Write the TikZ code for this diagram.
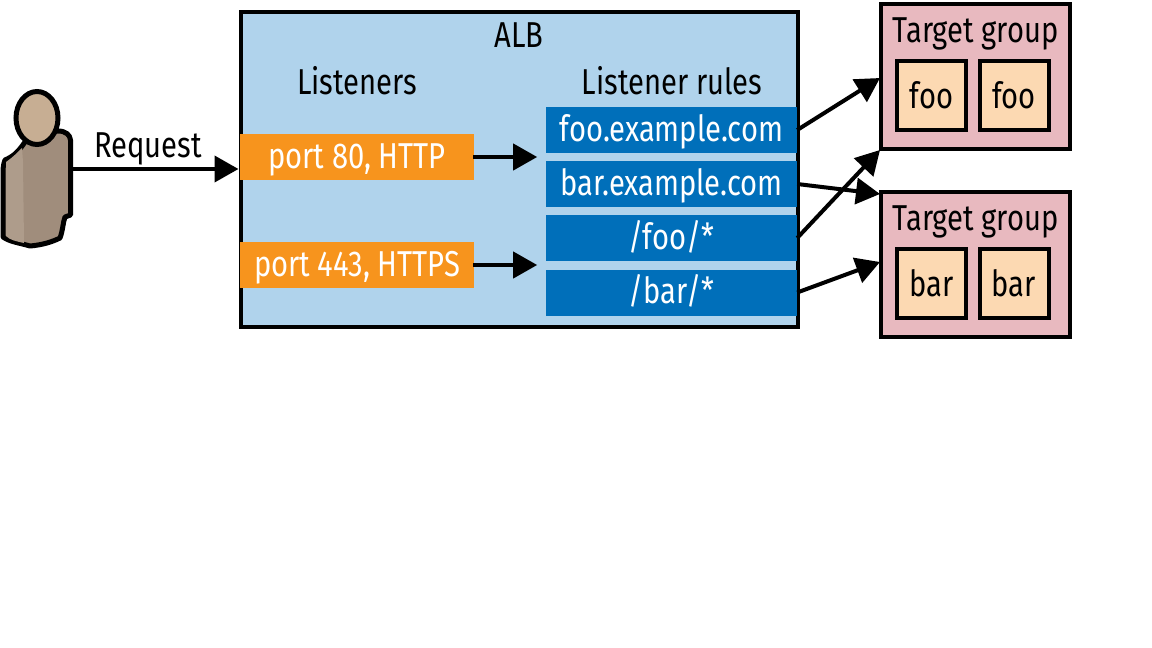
\documentclass[tikz,border=0pt]{standalone}
\usepackage{fontspec}
\setmainfont[FakeStretch=0.81]{Fira Sans}
\usetikzlibrary{arrows.meta,positioning,shapes.geometric}
\definecolor{albblue}{HTML}{B0D3EC}
\definecolor{lsorange}{HTML}{F7941D}
\definecolor{ruleblue}{HTML}{006FBA}
\definecolor{tgpink}{HTML}{E8B9BF}
\definecolor{peach}{HTML}{FCD9B2}
\definecolor{skin}{HTML}{C7AE93}
\definecolor{bodyA}{HTML}{A08D7C}
\definecolor{bodyB}{HTML}{AE9C8B}
\tikzset{
  x=1pt,y=-1pt,
  lbl/.style={inner sep=0,outer sep=0,font=\fontsize{36}{36}\selectfont,text=black},
  panel/.style={draw=black,line width=4pt,rectangle},
  lsbox/.style={fill=lsorange,text=white,inner sep=0,font=\fontsize{36}{36}\selectfont,minimum height=46pt,minimum width=234pt,text height=25pt,text depth=3pt},
  rulebox/.style={fill=ruleblue,text=white,inner sep=0,font=\fontsize{36}{36}\selectfont,minimum height=46pt,minimum width=251pt,text height=25pt,text depth=3pt},
  tgbox/.style={draw=black,line width=4pt,fill=tgpink,minimum width=189pt,minimum height=145pt,inner sep=0},
  inst/.style={draw=black,line width=4pt,fill=peach,minimum width=69pt,minimum height=69pt,inner sep=0,font=\fontsize{36}{36}\selectfont},
  conn/.style={line width=4pt,-{Triangle[length=24pt,width=26pt]},shorten >=0pt},
}
\begin{document}
\begin{tikzpicture}
\useasboundingbox (0,0) rectangle (1152,648);
% ALB
\node[panel,fill=albblue,minimum width=557pt,minimum height=315pt,inner sep=0] (alb) at (519,169.5) {};
\node[lbl] (albt) at (519,35) {ALB};
\node[lbl] (lst) at (357,81) {Listeners};
\node[lbl] (lrt) at (672,81) {Listener rules};
\node[lsbox] (p80) at (357,157) {port 80, HTTP};
\node[lsbox] (p443) at (357,265) {port 443, HTTPS};
\node[rulebox] (r1) at (671.5,130) {foo.example.com};
\node[rulebox] (r2) at (671.5,184) {bar.example.com};
\node[rulebox] (r3) at (671.5,238) {/foo/*};
\node[rulebox] (r4) at (671.5,292.5) {/bar/*};
% Target groups
\node[tgbox] (tg1) at (975.5,76) {};
\node[tgbox] (tg2) at (975.5,264) {};
\node[lbl] (tg1t) at (975.5,34) {Target group};
\node[lbl] (tg2t) at (975.5,222) {Target group};
\node[inst] (f1) at (931.5,95.5) {foo};
\node[inst] (f2) at (1014,95.5) {foo};
\node[inst] (b1) at (931.5,283.5) {bar};
\node[inst] (b2) at (1014,283.5) {bar};
% Person
\coordinate (pr) at (72,169);
\draw[line width=5pt,line join=round,fill=bodyA]
  (25,142) .. controls (18,152) and (14,156) .. (5,160)
  .. controls (3,165) and (3,170) .. (3,175)
  -- (3,237) .. controls (10,242) and (20,243) .. (30,246)
  .. controls (42,245) and (52,242) .. (60,238)
  .. controls (63,230) and (63,222) .. (65,217)
  -- (70.5,215) -- (70.5,140)
  .. controls (70,135) and (66,131) .. (58,131)
  -- (50,132) -- cycle;
\fill[bodyB] (6,162) .. controls (12,158) and (18,152) .. (22,148) -- (23,162) -- (24,243) .. controls (15,241) and (10,240) .. (6,236) -- cycle;
\node[draw=black,line width=5pt,fill=skin,ellipse,minimum width=42pt,minimum height=53pt,inner sep=0] (head) at (37,118) {};
\node[lbl] (req) at (148,149) {Request};
% Connectors
\draw[conn] (pr) -- (alb.west |- pr);
\draw[conn] (p80.east) ++(-1,0) -- ++(64,0) coordinate (e1);
\draw[conn] (p443.east) ++(-1,0) -- ++(64,0) coordinate (e2);
\coordinate (t1) at (880,78);
\coordinate (t2) at (880,194);
\coordinate (t3) at (880,150);
\coordinate (t4) at (880,262);
\draw[conn] (r1.east) -- (t1);
\draw[conn] (r3.east) -- (t3);
\draw[conn] (r2.east) -- (t2);
\draw[conn] (r4.east) -- (t4);
\end{tikzpicture}
\end{document}
